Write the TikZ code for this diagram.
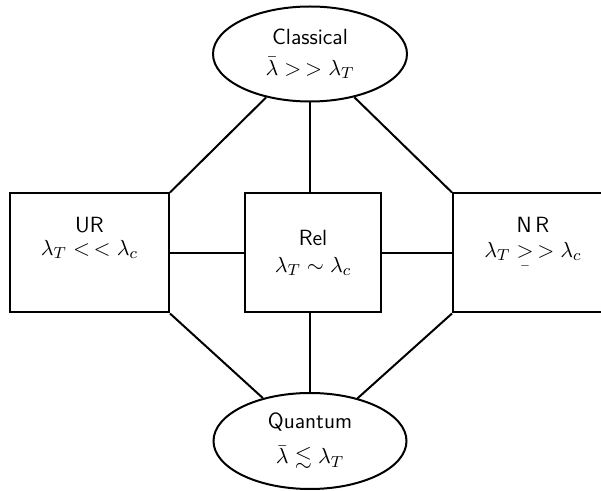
\documentclass[tikz,border=0pt]{standalone}
\usepackage{amsmath}
\usepackage{amssymb}
\usetikzlibrary{shapes.geometric}
\begin{document}
\begin{tikzpicture}[x=.5pt,y=-.5pt,line width=1pt,
  regime/.style={draw, ellipse, inner sep=0pt, align=center,
    font=\sffamily\fontsize{11}{13.6}\selectfont},
  regbox/.style={draw, rectangle, inner sep=0pt, align=center,
    minimum height=59.5pt, font=\sffamily\fontsize{11}{13.6}\selectfont}]
\path[clip, use as bounding box] (0,0) rectangle (601,491);
\node[regime, minimum width=97pt, minimum height=47.5pt] (Classical) at (310,54)
  {Classical\\[1.5pt]$\bar{\lambda} >\,> \lambda_T$};
\node[regime, minimum width=96.5pt, minimum height=48pt] (Quantum) at (310,441)
  {Quantum\\[4pt]$\bar{\lambda} \lesssim \lambda_T$};
\node[regbox, minimum width=79.5pt, text depth=17pt] (UR) at (89.5,253)
  {UR\\[-2pt]$\lambda_T <\,< \lambda_c$};
\node[regbox, minimum width=68pt] (Rel) at (313,253)
  {Rel\\$\lambda_T \sim \lambda_c$};
\node[regbox, minimum width=80pt, text depth=16pt] (NR) at (533,253)
  {N\,R\\[-1pt]$\lambda_T \mathrel{\smash{\underset{\raisebox{4pt}{$\scriptscriptstyle -$}}{>}}}\,> \lambda_c$};
\foreach \a/\b in {Classical/UR.north east, Classical/NR.north west,
  Quantum/UR.south east, Quantum/NR.south west, UR/Rel, Rel/NR}
  \draw (\a) -- (\b);
\draw (Classical.south) -- (Classical.south |- Rel.north);
\draw (Quantum.north) -- (Quantum.north |- Rel.south);
\end{tikzpicture}
\end{document}
